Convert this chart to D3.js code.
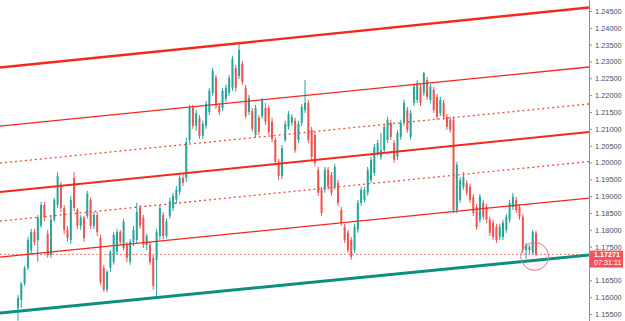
<!DOCTYPE html>
<html>
<head>
<meta charset="utf-8">
<script src="https://cdn.jsdelivr.net/npm/d3@7"></script>
<style>
  body { margin: 0; background: #fff; }
  svg { display: block; font-family: "Liberation Sans", Arial, sans-serif; }
</style>
</head>
<body>
<div id="chart"></div>
<script>
// OHLC, one entry per bar
const opens = [1.1568,1.1592,1.1640,1.1687,1.1740,1.1794,1.1770,1.1812,1.1874,1.1788,1.1726,1.1830,1.1874,1.1934,1.1865,1.1800,1.1770,1.1954,1.1859,1.1812,1.1836,1.1841,1.1889,1.1812,1.1844,1.1776,1.1687,1.1622,1.1687,1.1705,1.1735,1.1794,1.1746,1.1755,1.1705,1.1764,1.1770,1.1865,1.1836,1.1755,1.1755,1.1717,1.1711,1.1782,1.1844,1.1782,1.1841,1.1865,1.1889,1.1913,1.1954,1.1954,1.2067,1.2162,1.2109,1.2133,1.2079,1.2109,1.2150,1.2207,1.2251,1.2168,1.2162,1.2189,1.2207,1.2222,1.2281,
  1.2257,1.2293,1.2222,1.2150,1.2153,1.2082,1.2133,1.2138,1.2162,1.2162,1.2121,1.2067,1.2002,1.1960,1.2067,1.2106,1.2118,1.2124,1.2067,1.2118,1.2156,1.2177,1.2097,1.2082,1.1978,1.1919,1.1919,1.1978,1.1963,1.1928,1.1939,1.1859,1.1809,1.1791,1.1770,1.1740,1.1800,1.1880,1.1889,1.1910,1.1948,1.1969,1.2029,1.2017,1.2037,1.2067,1.2118,1.2058,1.2017,1.2076,1.2118,1.2156,1.2076,1.2177,1.2186,1.2225,1.2207,1.2245,1.2186,1.2216,1.2195,1.2147,1.2177,1.2136,1.2127,1.2127,1.1859,1.1889,1.1928,1.1939,1.1928,1.1898,1.1868,1.1830,1.1880,1.1868,1.1830,1.1821,1.1809,1.1779,1.1779,1.1800,1.1830,1.1868,1.1889,1.1868,1.1839,1.1740,1.1740,1.1732,1.1791];
const highs = [1.1607,1.1645,1.1693,1.1779,1.1803,1.1803,1.1844,1.1883,1.1883,1.1800,1.1841,1.1895,1.1972,1.1942,1.1874,1.1812,1.1901,1.1972,1.1865,1.1844,1.1841,1.1916,1.1895,1.1853,1.1853,1.1785,1.1696,1.1681,1.1740,1.1794,1.1803,1.1800,1.1833,1.1764,1.1773,1.1812,1.1880,1.1874,1.1844,1.1788,1.1764,1.1726,1.1803,1.1874,1.1853,1.1833,1.1895,1.1910,1.1931,1.1963,1.1966,1.2073,1.2171,1.2171,1.2156,1.2141,1.2124,1.2183,1.2222,1.2281,1.2260,1.2177,1.2222,1.2231,1.2260,1.2317,1.2290,
  1.2355,1.2302,1.2231,1.2201,1.2162,1.2171,1.2141,1.2192,1.2177,1.2171,1.2133,1.2076,1.2011,1.2052,1.2124,1.2153,1.2144,1.2133,1.2124,1.2174,1.2245,1.2186,1.2106,1.2091,1.1987,1.1928,1.1987,1.1987,1.1972,1.1996,1.1948,1.1868,1.1818,1.1800,1.1779,1.1818,1.1889,1.1928,1.1928,1.1987,1.2017,1.2055,1.2067,1.2088,1.2115,1.2136,1.2127,1.2067,1.2097,1.2127,1.2186,1.2165,1.2156,1.2234,1.2245,1.2234,1.2269,1.2254,1.2234,1.2225,1.2204,1.2195,1.2186,1.2144,1.2136,1.2136,1.2002,1.1957,1.1972,1.1948,1.1937,1.1907,1.1877,1.1907,1.1889,1.1877,1.1839,1.1830,1.1818,1.1818,1.1830,1.1847,1.1889,1.1910,1.1898,1.1877,1.1847,1.1761,1.1755,1.1800,1.1797];
const lows = [1.1530,1.1568,1.1633,1.1680,1.1726,1.1755,1.1705,1.1806,1.1826,1.1717,1.1717,1.1824,1.1865,1.1853,1.1788,1.1764,1.1758,1.1856,1.1803,1.1800,1.1764,1.1833,1.1803,1.1803,1.1782,1.1637,1.1616,1.1615,1.1675,1.1696,1.1726,1.1755,1.1738,1.1705,1.1696,1.1752,1.1761,1.1803,1.1746,1.1740,1.1696,1.1622,1.1601,1.1770,1.1773,1.1776,1.1833,1.1856,1.1877,1.1904,1.1930,1.1942,1.2058,1.2100,1.2094,1.2070,1.2070,1.2100,1.2141,1.2198,1.2159,1.2141,1.2153,1.2180,1.2198,1.2213,1.2210,
  1.2248,1.2231,1.2130,1.2141,1.2091,1.2073,1.2082,1.2130,1.2112,1.2082,1.2061,1.1993,1.1948,1.1951,1.2061,1.2097,1.2109,1.2029,1.2058,1.2109,1.2147,1.2058,1.2008,1.1990,1.1901,1.1841,1.1910,1.1919,1.1901,1.1919,1.1871,1.1812,1.1761,1.1732,1.1711,1.1732,1.1791,1.1871,1.1880,1.1901,1.1939,1.1960,1.2020,1.2008,1.2029,1.2058,1.2067,1.1999,1.2008,1.2067,1.2109,1.2088,1.2067,1.2168,1.2177,1.2168,1.2198,1.2186,1.2177,1.2147,1.2127,1.2138,1.2127,1.2097,1.2088,1.1850,1.1850,1.1880,1.1919,1.1901,1.1880,1.1841,1.1800,1.1821,1.1830,1.1821,1.1782,1.1770,1.1761,1.1770,1.1770,1.1791,1.1821,1.1859,1.1850,1.1830,1.1732,1.1714,1.1729,1.1726,1.1723];
const closes = [1.1598,1.1640,1.1687,1.1770,1.1794,1.1764,1.1836,1.1874,1.1836,1.1726,1.1830,1.1889,1.1960,1.1865,1.1800,1.1776,1.1889,1.1865,1.1812,1.1836,1.1776,1.1907,1.1812,1.1844,1.1794,1.1645,1.1622,1.1675,1.1735,1.1785,1.1794,1.1764,1.1824,1.1717,1.1764,1.1800,1.1853,1.1812,1.1755,1.1782,1.1705,1.1634,1.1794,1.1865,1.1782,1.1824,1.1886,1.1901,1.1919,1.1954,1.1940,1.2061,1.2162,1.2109,1.2147,1.2079,1.2115,1.2174,1.2213,1.2272,1.2168,1.2150,1.2213,1.2222,1.2251,1.2308,1.2222,
  1.2334,1.2239,1.2138,1.2192,1.2100,1.2162,1.2091,1.2183,1.2121,1.2091,1.2070,1.2002,1.1960,1.2043,1.2115,1.2144,1.2136,1.2037,1.2115,1.2165,1.2177,1.2067,1.2017,1.1999,1.1910,1.1850,1.1978,1.1928,1.1910,1.1987,1.1880,1.1821,1.1770,1.1740,1.1720,1.1809,1.1880,1.1919,1.1919,1.1978,1.2008,1.2046,1.2058,1.2037,1.2106,1.2127,1.2076,1.2008,1.2088,1.2118,1.2177,1.2097,1.2147,1.2225,1.2236,1.2177,1.2266,1.2195,1.2225,1.2156,1.2136,1.2186,1.2136,1.2106,1.2097,1.1859,1.1993,1.1948,1.1957,1.1910,1.1889,1.1850,1.1809,1.1898,1.1839,1.1830,1.1791,1.1779,1.1770,1.1809,1.1821,1.1839,1.1880,1.1898,1.1859,1.1839,1.1740,1.1755,1.1749,1.1794,1.17271];

// Channel lines: price at the left edge and at the right edge of the plot
const lineKinds = ["outer", "inner", "quarter", "median", "quarter", "inner", "base"];
const lineStart = [1.22821, 1.21083, 1.19984, 1.19123, 1.18261, 1.17191, 1.15528];
const lineEnd = [1.24604, 1.22836, 1.21737, 1.20905, 1.20029, 1.18944, 1.17251];

// Price axis (1.17000 sits under the last-price label)
const tickValues = [1.155,1.16,1.165,1.17,1.175,1.18,1.185,1.19,1.195,1.2,1.205,1.21,1.215,1.22,1.225,1.23,1.235,1.24,1.245];
const hiddenTick = 1.17;
const lastPrice = 1.17271;
const lastLabel = ["1.17271", "07:31:11"];

const W = 625, H = 321;
const plotRight = 589;

const up = "#26a69a", down = "#ef5350";
const lineStyle = {
  outer:   { stroke: "#f2291c", width: 2.4, dash: null },
  inner:   { stroke: "#f2291c", width: 1.3, dash: null },
  quarter: { stroke: "#f4473b", width: 1.3, dash: "2,3" },
  median:  { stroke: "#f2291c", width: 2, dash: null },
  base:    { stroke: "#0b9080", width: 3, dash: null }
};

const svg = d3.select("#chart").append("svg")
  .attr("width", W).attr("height", H);

svg.append("rect").attr("width", W).attr("height", H).attr("fill", "#fff");

const y = d3.scaleLinear().domain([1.155, 1.245]).range([314, 11]);
const x = d3.scaleLinear().domain([0, closes.length - 1]).range([18, 536]);

const plot = svg.append("g");

// last price dotted line
plot.append("line")
  .attr("x1", 0).attr("x2", plotRight)
  .attr("y1", y(lastPrice)).attr("y2", y(lastPrice))
  .attr("stroke", "#f47a80").attr("stroke-width", 1)
  .attr("stroke-dasharray", "2,2");

// candles
const bars = closes.map((c, i) => ({ i, o: opens[i], h: highs[i], l: lows[i], c }));
const candle = plot.selectAll(".candle").data(bars).enter().append("g")
  .attr("class", "candle");

candle.append("line")
  .attr("x1", d => x(d.i)).attr("x2", d => x(d.i))
  .attr("y1", d => y(d.h)).attr("y2", d => y(d.l))
  .attr("stroke", d => d.c >= d.o ? up : down)
  .attr("stroke-width", 1);

candle.append("rect")
  .attr("x", d => x(d.i) - 1)
  .attr("width", 2)
  .attr("y", d => y(Math.max(d.o, d.c)))
  .attr("height", d => Math.max(1, Math.abs(y(d.o) - y(d.c))))
  .attr("fill", d => d.c >= d.o ? up : down);

// channel lines
const x0 = x.invert(0), x1 = x.invert(plotRight);
plot.selectAll(".chan").data(lineKinds).enter().append("line")
  .attr("class", "chan")
  .attr("x1", x(x0)).attr("x2", x(x1))
  .attr("y1", (k, i) => y(lineStart[i]))
  .attr("y2", (k, i) => y(lineEnd[i]))
  .attr("stroke", k => lineStyle[k].stroke)
  .attr("stroke-width", k => lineStyle[k].width)
  .attr("stroke-dasharray", k => lineStyle[k].dash);

// highlight circle at the last bars
plot.append("circle")
  .attr("cx", x(closes.length - 1.4)).attr("cy", y(lastPrice) + 2)
  .attr("r", 14)
  .attr("fill", "rgba(233,30,99,0.04)")
  .attr("stroke", "#ec6f97").attr("stroke-width", 1);

// right price axis
const axis = d3.axisRight(y)
  .tickValues(tickValues)
  .tickFormat(d3.format(".5f"))
  .tickSize(3)
  .tickPadding(3);

const gAxis = svg.append("g")
  .attr("transform", "translate(" + plotRight + ",0)")
  .call(axis);

gAxis.select(".domain").attr("stroke", "#8a8d96").attr("d", "M0.5,0V" + H);
gAxis.selectAll(".tick line").attr("stroke", "#8a8d96");
gAxis.selectAll(".tick text")
  .attr("fill", "#4a4d57")
  .style("font-size", "7.4px");
gAxis.selectAll(".tick").filter(d => d === hiddenTick).select("text").remove();

// last price label
const lab = svg.append("g").attr("transform", "translate(" + (plotRight + 1) + "," + y(lastPrice) + ")");
lab.append("rect")
  .attr("x", 0).attr("y", -3.8).attr("width", 33).attr("height", 17)
  .attr("fill", "#f6525c");
lab.selectAll("text").data(lastLabel).enter().append("text")
  .attr("x", 4).attr("y", (d, i) => i * 8 + 3)
  .attr("fill", "#fff")
  .style("font-size", "7.2px")
  .style("font-weight", (d, i) => i === 0 ? "bold" : "normal")
  .text(d => d);
</script>
</body>
</html>
